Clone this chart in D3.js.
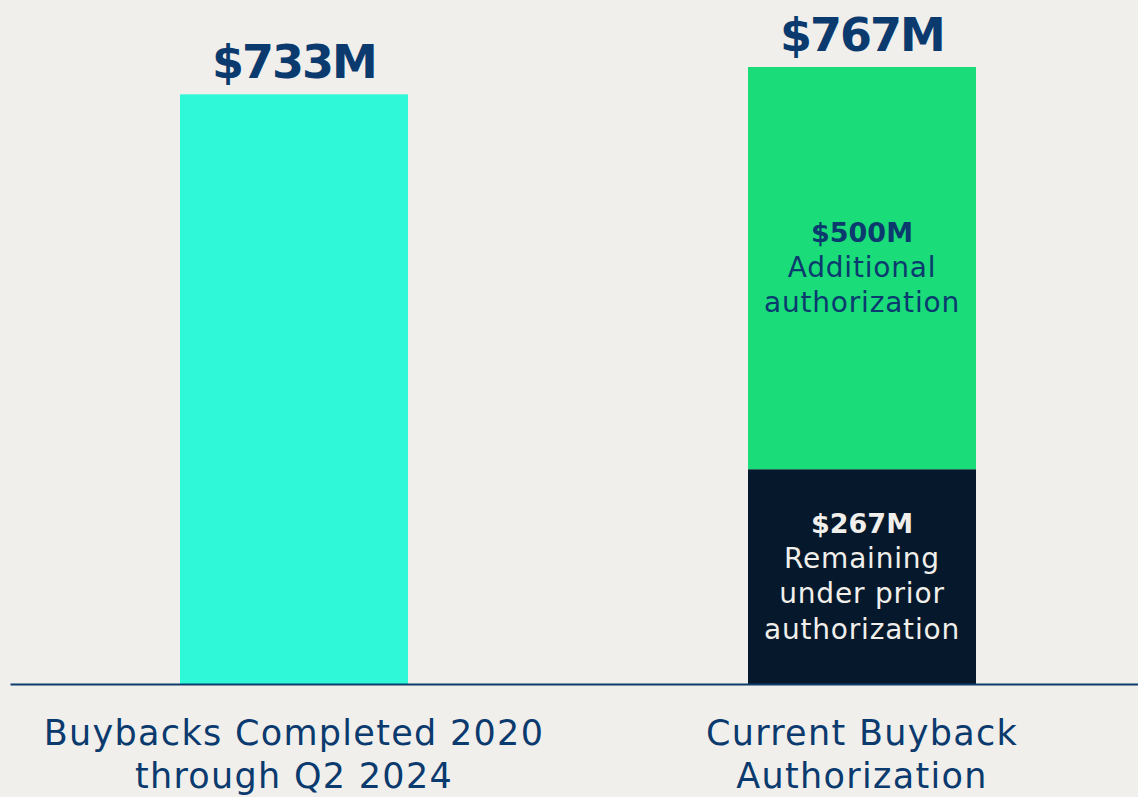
<!DOCTYPE html>
<html>
<head>
<meta charset="utf-8">
<script src="https://cdn.jsdelivr.net/npm/d3@7"></script>
<style>
  html, body { margin: 0; padding: 0; background: #f1efeb; }
  svg { display: block; font-family: "DejaVu Sans", sans-serif; }
</style>
</head>
<body>
<svg></svg>
<script>
// categories en waarden
var categories = ['completed', 'current'];
var categoryLabels = [['Buybacks Completed 2020', 'through Q2 2024'], ['Current Buyback', 'Authorization']];
var completed = [733];
var remaining = [267];
var additional = [500];
var totalLabels = ['$733M', '$767M'];
var segmentLabels = [
  ['$267M', 'Remaining', 'under prior', 'authorization'],
  ['$500M', 'Additional', 'authorization']
];

var width = 1138, height = 797;
var baseline = 684, topY = 67;

var svg = d3.select('svg')
    .attr('width', width)
    .attr('height', height);

svg.append('rect')
    .attr('width', width)
    .attr('height', height)
    .attr('fill', '#f1efeb');

var x = d3.scaleBand()
    .domain(categories)
    .range([10, 1146])
    .paddingInner(0.5986)
    .paddingOuter(0.2993);

var y = d3.scaleLinear()
    .domain([0, remaining[0] + additional[0]])
    .range([baseline, topY]);

// stapel data
var stacks = [
  {cat: 'completed', y0: 0, y1: completed[0], color: '#2ff8d9'},
  {cat: 'current', y0: 0, y1: remaining[0], color: '#06192c', text: segmentLabels[0], textColor: '#f1efeb'},
  {cat: 'current', y0: remaining[0], y1: remaining[0] + additional[0], color: '#1adc78', text: segmentLabels[1], textColor: '#0b3a6e'}
];

svg.selectAll('.bar')
    .data(stacks)
    .enter()
    .append('rect')
    .attr('class', 'bar')
    .attr('x', function(d) { return x(d.cat); })
    .attr('y', function(d) { return y(d.y1); })
    .attr('width', x.bandwidth())
    .attr('height', function(d) { return y(d.y0) - y(d.y1); })
    .attr('fill', function(d) { return d.color; });

// x as
var xAxis = d3.axisBottom(x).tickSize(0).tickFormat('');
var axis = svg.append('g')
    .attr('class', 'x axis')
    .attr('transform', 'translate(0,' + baseline + ')')
    .call(xAxis);
axis.select('.domain')
    .attr('stroke', '#0d3d6b')
    .attr('stroke-width', 2.2);

// totalen boven de bars
var totals = [completed[0], remaining[0] + additional[0]];
svg.selectAll('.total')
    .data(categories)
    .enter()
    .append('text')
    .attr('class', 'total')
    .attr('x', function(d) { return x(d) + x.bandwidth() / 2; })
    .attr('y', function(d, i) { return y(totals[i]) - 16; })
    .attr('text-anchor', 'middle')
    .attr('fill', '#0b3a6e')
    .style('font-size', '46px')
    .style('letter-spacing', '-2px')
    .style('font-weight', 700)
    .text(function(d, i) { return totalLabels[i]; });

// teksten in de segmenten
stacks.filter(function(d) { return d.text; }).forEach(function(d) {
  var cx = x(d.cat) + x.bandwidth() / 2;
  var mid = (y(d.y0) + y(d.y1)) / 2;
  var lineH = 35.3;
  var first = mid - (d.text.length - 1) * lineH / 2 + 9;
  var t = svg.append('text')
      .attr('text-anchor', 'middle')
      .attr('fill', d.textColor);
  d.text.forEach(function(line, i) {
    t.append('tspan')
      .attr('x', cx)
      .attr('y', first + i * lineH)
      .style('font-size', i === 0 ? '27px' : '28px')
      .style('letter-spacing', i === 0 ? '0px' : '0.8px')
      .style('font-weight', i === 0 ? 700 : 400)
      .text(line);
  });
});

// categorie labels
categories.forEach(function(c, i) {
  var t = svg.append('text')
      .attr('text-anchor', 'middle')
      .attr('fill', '#0b3a6e')
      .style('font-size', '35px')
      .style('letter-spacing', '1.3px');
  categoryLabels[i].forEach(function(line, j) {
    t.append('tspan')
      .attr('x', x(c) + x.bandwidth() / 2)
      .attr('y', 745 + j * 43)
      .text(line);
  });
});
</script>
</body>
</html>
